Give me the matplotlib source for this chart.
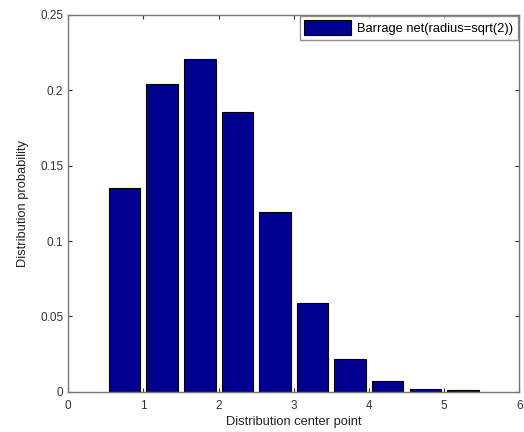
import matplotlib
matplotlib.use("Agg")
import matplotlib.pyplot as plt

plt.rcParams['font.family'] = ['Liberation Sans', 'DejaVu Sans']

# bar centres and heights
centers = [0.75, 1.25, 1.75, 2.25, 2.75, 3.25, 3.75, 4.25, 4.75, 5.25]
probs = [0.135, 0.204, 0.221, 0.1855, 0.119, 0.059, 0.022, 0.0072, 0.002, 0.001]
xticks = [0, 1, 2, 3, 4, 5, 6]
yticks = [0, 0.05, 0.1, 0.15, 0.2, 0.25]
ytick_labels = ['0', '0.05', '0.1', '0.15', '0.2', '0.25']
legend_label = 'Barrage net(radius=sqrt(2))'

fig = plt.figure(figsize=(5.24, 4.32), dpi=100)
ax = fig.add_axes([0.130, 0.0933, 0.861, 0.872])

ax.bar(centers, probs, width=0.42, color='#000090', edgecolor='black',
       linewidth=0.8, label=legend_label)

ax.set_xlim(0, 6)
ax.set_ylim(0, 0.25)
ax.set_xticks(xticks)
ax.set_yticks(yticks)
ax.set_yticklabels(ytick_labels)
ax.tick_params(direction='in', top=True, right=True, length=3,
               labelsize=8.5, colors='#333333', width=0.8)
ax.tick_params(axis='x', pad=6)
for s in ax.spines.values():
    s.set_color('#777777')
    s.set_linewidth(1.0)

ax.set_xlabel('Distribution center point', fontsize=9.3, color='#222222', labelpad=3)
ax.set_ylabel('Distribution probability', fontsize=9.3, color='#222222', labelpad=8)

leg = ax.legend(loc='upper right', bbox_to_anchor=(1.003, 1.005), fontsize=9.3,
                frameon=True, fancybox=False, borderaxespad=0.2,
                handlelength=3.6, handleheight=1.4, borderpad=0.35,
                handletextpad=0.5)
leg.get_frame().set_edgecolor('#777777')
leg.get_frame().set_linewidth(1.0)

fig.savefig('out.png', dpi=100)
